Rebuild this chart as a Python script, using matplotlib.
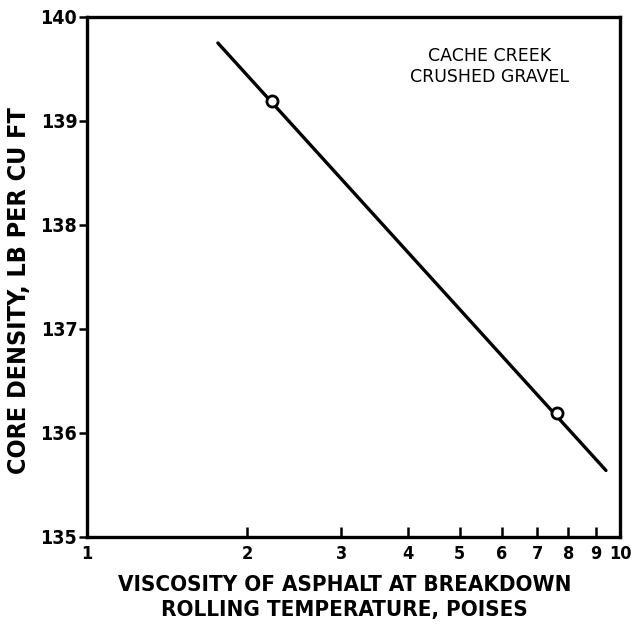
#!/usr/bin/env python3
"""Core density vs. asphalt viscosity at breakdown rolling temperature."""

import matplotlib

matplotlib.use("Agg")
import matplotlib.pyplot as plt
from matplotlib.ticker import FixedLocator, NullLocator

# fitted line ends (viscosity, density)
line_visc = [1.76, 9.41]
line_dens = [139.75, 135.64]

# measured points
point_visc = [2.22, 7.62]
point_dens = [139.19, 136.19]

x_ticks = [1, 2, 3, 4, 5, 6, 7, 8, 9, 10]
x_tick_labels = ["1", "2", "3", "4", "5", "6", "7", "8", "9", "10"]
y_ticks = [135, 136, 137, 138, 139, 140]
y_tick_labels = ["135", "136", "137", "138", "139", "140"]

FONT = "DejaVu Sans"


def main() -> None:
    fig = plt.figure(figsize=(6.32, 6.25), dpi=100)
    ax = fig.add_axes([0.1377, 0.1408, 0.8434, 0.832])

    ax.plot(line_visc, line_dens, color="black", linewidth=2.4, solid_capstyle="round", zorder=2)
    ax.plot(
        point_visc,
        point_dens,
        linestyle="none",
        marker="o",
        markersize=8,
        markerfacecolor="white",
        markeredgecolor="black",
        markeredgewidth=2.0,
        zorder=3,
    )

    ax.set_xscale("log")
    ax.set_xlim(1, 10)
    ax.set_ylim(135, 140)

    ax.xaxis.set_major_locator(FixedLocator(x_ticks))
    ax.xaxis.set_minor_locator(NullLocator())
    ax.set_xticklabels(x_tick_labels, fontfamily=FONT, fontweight="bold", fontsize=13, fontstretch="condensed")
    ax.set_yticks(y_ticks)
    ax.set_yticklabels(y_tick_labels, fontfamily=FONT, fontweight="bold", fontsize=14, fontstretch="condensed")

    ax.tick_params(axis="x", direction="in", length=7, width=1.8, pad=6)
    ax.tick_params(axis="y", direction="out", length=6, width=1.8, pad=1)

    for spine in ax.spines.values():
        spine.set_linewidth(2.4)

    ax.set_xlabel(
        "VISCOSITY OF ASPHALT AT BREAKDOWN\nROLLING TEMPERATURE, POISES",
        fontfamily=FONT,
        fontweight="bold",
        fontsize=16,
        fontstretch="condensed",
        linespacing=1.32,
        verticalalignment="top",
    )
    ax.xaxis.set_label_coords(0.483, -0.073)

    ax.set_ylabel(
        "CORE DENSITY, LB PER CU FT",
        fontfamily=FONT,
        fontweight="bold",
        fontsize=18,
        fontstretch="condensed",
    )
    ax.yaxis.set_label_coords(-0.105, 0.473)

    ax.text(
        0.755,
        0.905,
        "CACHE CREEK\nCRUSHED GRAVEL",
        transform=ax.transAxes,
        ha="center",
        va="center",
        fontfamily=FONT,
        fontsize=12.5,
        linespacing=1.25,
    )

    fig.savefig("out.png", dpi=100, facecolor="white")
    plt.close(fig)


if __name__ == "__main__":
    main()
